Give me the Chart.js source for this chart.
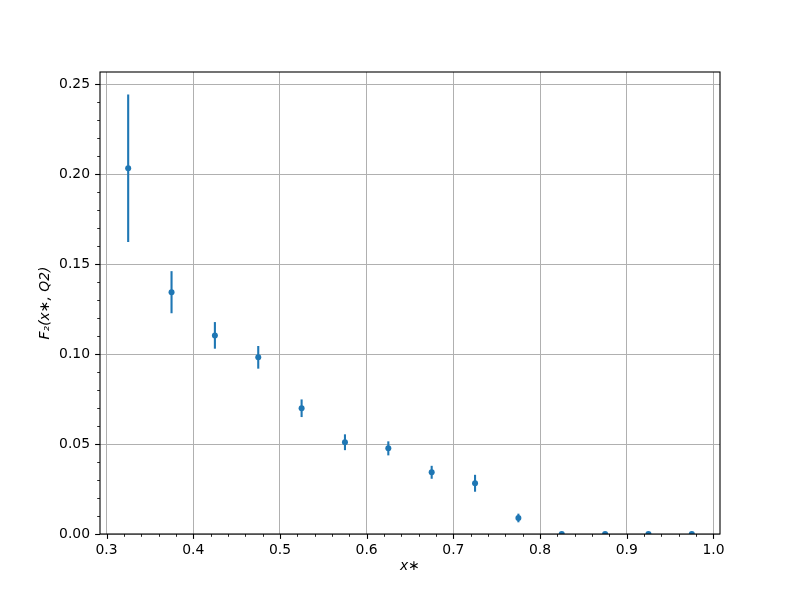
<!DOCTYPE html>
<html>
<head>
<meta charset="utf-8">
<script src="https://cdn.jsdelivr.net/npm/chart.js@4/dist/chart.umd.min.js"></script>
<style>
  html, body { margin: 0; padding: 0; background: #ffffff; }
  #wrap { width: 800px; height: 600px; position: relative; }
</style>
</head>
<body>
<div id="wrap"><canvas id="c" width="800" height="600"></canvas></div>
<script>
// ---- data ----
const xValues = [0.325, 0.375, 0.425, 0.475, 0.525, 0.575, 0.625, 0.675, 0.725, 0.775, 0.825, 0.875, 0.925, 0.975];
const yValues = [0.2033, 0.1344, 0.1104, 0.0982, 0.0699, 0.0510, 0.0476, 0.0343, 0.0282, 0.0089, 0, 0, 0, 0];
const yErrors = [0.0410, 0.0117, 0.0074, 0.0063, 0.0049, 0.0044, 0.0039, 0.0036, 0.0047, 0.0024, 0, 0, 0, 0];
const xTickValues = [0.3, 0.4, 0.5, 0.6, 0.7, 0.8, 0.9, 1.0];
const yTickValues = [0.00, 0.05, 0.10, 0.15, 0.20, 0.25];
const xMinorTicks = [0.32, 0.34, 0.36, 0.38, 0.42, 0.44, 0.46, 0.48, 0.52, 0.54, 0.56, 0.58, 0.62, 0.64, 0.66, 0.68, 0.72, 0.74, 0.76, 0.78, 0.82, 0.84, 0.86, 0.88, 0.92, 0.94, 0.96, 0.98];
const yMinorTicks = [0.01, 0.02, 0.03, 0.04, 0.06, 0.07, 0.08, 0.09, 0.11, 0.12, 0.13, 0.14, 0.16, 0.17, 0.18, 0.19, 0.21, 0.22, 0.23, 0.24];
const xLabel = 'x∗';
const yLabel = 'F₂(x∗, Q2)';

const BLUE = '#1f77b4';
const FONT = 'DejaVu Sans';
const FS = 13.9;

const extras = {
  id: 'extras',
  beforeDatasetsDraw(chart) {
    const ctx = chart.ctx, xs = chart.scales.x, ys = chart.scales.y, a = chart.chartArea;
    ctx.save();
    ctx.beginPath();
    ctx.rect(a.left, a.top, a.right - a.left, a.bottom - a.top);
    ctx.clip();
    ctx.strokeStyle = BLUE;
    ctx.lineWidth = 2.1;
    for (let i = 0; i < xValues.length; i++) {
      if (!yErrors[i]) continue;
      const px = xs.getPixelForValue(xValues[i]);
      const y1 = ys.getPixelForValue(yValues[i] - yErrors[i]);
      const y2 = ys.getPixelForValue(yValues[i] + yErrors[i]);
      ctx.beginPath();
      ctx.moveTo(px, y1);
      ctx.lineTo(px, y2);
      ctx.stroke();
    }
    ctx.restore();
  },
  afterDraw(chart) {
    const ctx = chart.ctx, xs = chart.scales.x, ys = chart.scales.y, a = chart.chartArea;
    ctx.save();
    ctx.strokeStyle = '#000';
    // major ticks
    ctx.lineWidth = 1.1;
    xTickValues.forEach(v => {
      const p = Math.round(xs.getPixelForValue(v)) + 0.5;
      ctx.beginPath(); ctx.moveTo(p, a.bottom); ctx.lineTo(p, a.bottom + 4.9); ctx.stroke();
    });
    yTickValues.forEach(v => {
      const p = Math.round(ys.getPixelForValue(v)) + 0.5;
      ctx.beginPath(); ctx.moveTo(a.left, p); ctx.lineTo(a.left - 4.9, p); ctx.stroke();
    });
    // minor ticks
    ctx.lineWidth = 0.85;
    xMinorTicks.forEach(v => {
      const p = Math.round(xs.getPixelForValue(v)) + 0.5;
      ctx.beginPath(); ctx.moveTo(p, a.bottom); ctx.lineTo(p, a.bottom + 2.8); ctx.stroke();
    });
    yMinorTicks.forEach(v => {
      const p = Math.round(ys.getPixelForValue(v)) + 0.5;
      ctx.beginPath(); ctx.moveTo(a.left, p); ctx.lineTo(a.left - 2.8, p); ctx.stroke();
    });
    // frame
    ctx.lineWidth = 1.1;
    ctx.strokeRect(a.left, a.top, a.right - a.left, a.bottom - a.top);
    ctx.restore();
  }
};

new Chart(document.getElementById('c'), {
  type: 'scatter',
  data: {
    datasets: [{
      data: xValues.map((x, i) => ({ x: x, y: yValues[i] })),
      backgroundColor: BLUE,
      borderColor: BLUE,
      borderWidth: 0,
      pointRadius: 3,
      pointHoverRadius: 3,
      clip: 0
    }]
  },
  options: {
    responsive: false,
    animation: false,
    events: [],
    layout: { padding: { top: 72, right: 80, bottom: 0, left: 0 } },
    plugins: { legend: { display: false }, tooltip: { enabled: false } },
    scales: {
      x: {
        type: 'linear',
        min: 0.2925,
        max: 1.0075,
        afterBuildTicks: s => { s.ticks = xTickValues.map(v => ({ value: v })); },
        afterFit: s => { s.height = 66; },
        ticks: {
          color: '#000',
          font: { family: FONT, size: FS },
          padding: 8,
          maxRotation: 0,
          autoSkip: false,
          callback: v => Number(v).toFixed(1)
        },
        grid: { color: '#b0b0b0', lineWidth: 1, drawTicks: false },
        border: { display: false },
        title: {
          display: true,
          text: xLabel,
          color: '#000',
          font: { family: FONT, size: FS, style: 'italic' },
          padding: { top: 0, bottom: 25 }
        }
      },
      y: {
        type: 'linear',
        min: 0,
        max: 0.2568,
        afterBuildTicks: s => { s.ticks = yTickValues.map(v => ({ value: v })); },
        afterFit: s => { s.width = 100; },
        ticks: {
          color: '#000',
          font: { family: FONT, size: FS },
          padding: 10,
          autoSkip: false,
          callback: v => Number(v).toFixed(2)
        },
        grid: { color: '#b0b0b0', lineWidth: 1, drawTicks: false },
        border: { display: false },
        title: {
          display: true,
          text: yLabel,
          color: '#000',
          font: { family: FONT, size: FS, style: 'italic' },
          padding: { top: 37, bottom: 0 }
        }
      }
    }
  },
  plugins: [extras]
});
</script>
</body>
</html>
